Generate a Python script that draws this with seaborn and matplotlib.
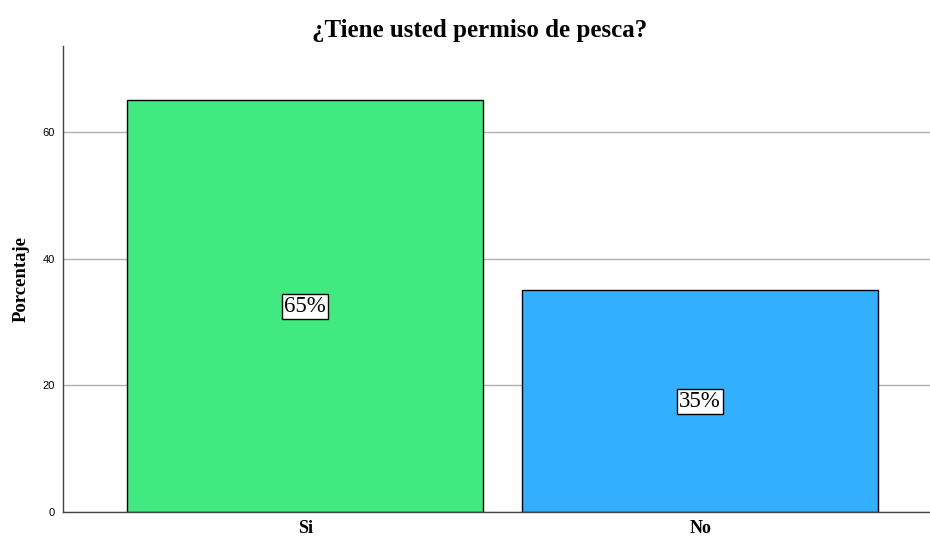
import matplotlib
matplotlib.use("Agg")
import matplotlib.pyplot as plt
import seaborn as sns
import pandas as pd

categorias = ["Si", "No"]
porcentajes = [65, 35]
colores = ["#41EA80", "#33AFFF"]

sns.set_theme(style="white")
plt.rcParams['font.family'] = ['Liberation Sans', 'DejaVu Sans']
plt.rcParams['text.color'] = 'black'
plt.rcParams['axes.labelcolor'] = 'black'
plt.rcParams['xtick.color'] = 'black'
plt.rcParams['ytick.color'] = 'black'

df = pd.DataFrame({"resp": categorias, "pct": porcentajes})

fig = plt.figure(figsize=(9.3, 5.37), dpi=100)
ax = fig.add_axes([63 / 930, 25 / 537, 867 / 930, 466 / 537])

sns.barplot(data=df, x="resp", y="pct", hue="resp", palette=colores, legend=False,
            width=0.9, edgecolor="black", linewidth=1, saturation=1, ax=ax, zorder=2)

ax.set_xlim(-0.613, 1.582)
ax.set_ylim(0, 73.6)
ax.set_yticks([0, 20, 40, 60])
ax.yaxis.grid(True, color="#b0b0b0", linewidth=1, zorder=0)
ax.set_axisbelow(True)
ax.tick_params(axis="y", labelsize=8, length=0, pad=6)
ax.tick_params(axis="x", length=0, pad=6)
for lbl in ax.get_xticklabels():
    lbl.set_fontfamily("Liberation Serif")
    lbl.set_fontweight("bold")
    lbl.set_fontsize(13)

for s in ["top", "right"]:
    ax.spines[s].set_visible(False)
for s in ["left", "bottom"]:
    ax.spines[s].set_color("#444444")
    ax.spines[s].set_linewidth(1)

ax.set_xlabel("")
ax.set_ylabel("Porcentaje", fontfamily="Liberation Serif", fontweight="bold",
              fontsize=13.5, labelpad=9)
# title sits a bit left of the axes centre in the original
fig.text(480 / 930, 1 - 30 / 537, "¿Tiene usted permiso de pesca?", ha="center", va="center",
         fontfamily="Liberation Serif", fontweight="bold", fontsize=18)

for i, v in enumerate(porcentajes):
    ax.text(i, v / 2, f"{v}%", ha="center", va="center", fontfamily="Liberation Serif",
            fontsize=16.5, color="black", zorder=5,
            bbox=dict(boxstyle="square,pad=0.08", facecolor="white", edgecolor="black", linewidth=1))

fig.savefig("out.png", dpi=100)
